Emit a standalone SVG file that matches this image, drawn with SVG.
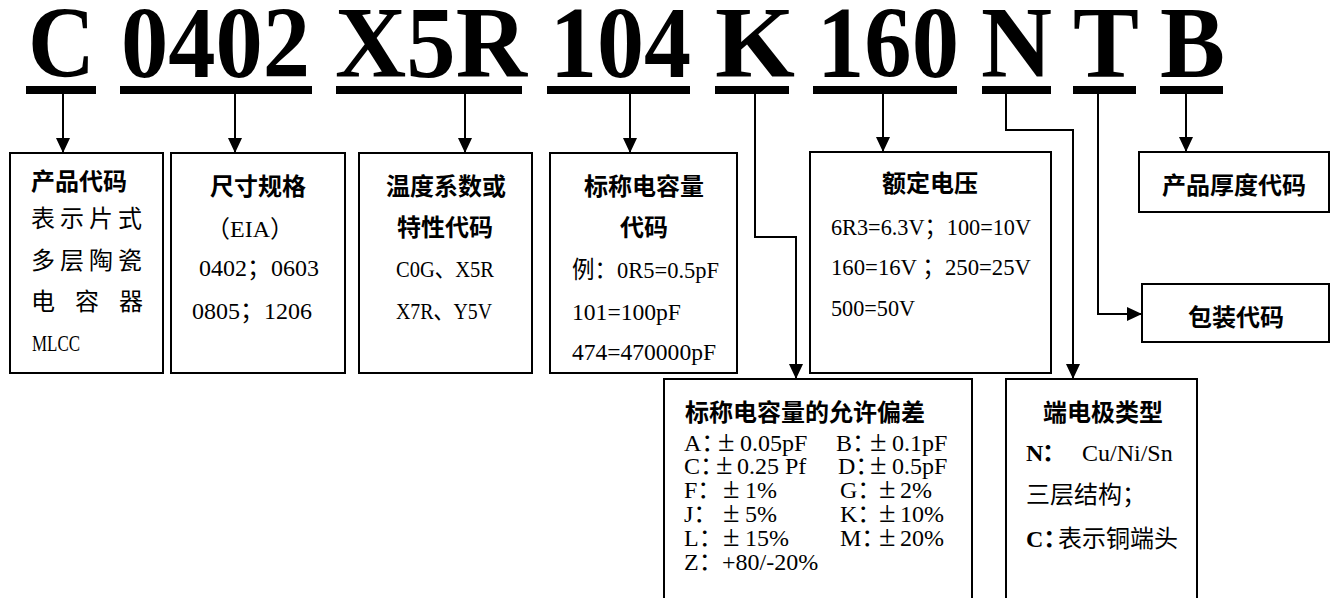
<svg xmlns="http://www.w3.org/2000/svg" width="1340" height="598" viewBox="0 0 1340 598">
<defs>
<marker id="ah" viewBox="0 0 15 14" refX="15" refY="7" markerWidth="15" markerHeight="14" markerUnits="userSpaceOnUse" orient="auto"><path d="M0,0 L15,7 L0,14 z" fill="#000"/></marker>
</defs>
<style>
.code{font-family:"Liberation Serif",serif;font-weight:bold;font-size:102px;fill:#000}
.bar{fill:#000}
.box{fill:#fff;stroke:#000;stroke-width:2}
.h{font-family:"Noto Sans CJK SC",sans-serif;font-weight:bold;font-size:24px;fill:#000}
.t{font-family:"Liberation Serif","Noto Sans CJK SC",serif;font-size:24px;fill:#000}
.c{text-anchor:middle}
.b{font-weight:bold}
.pm{font-size:30px}
.conn{fill:none;stroke:#000;stroke-width:2;marker-end:url(#ah)}
</style>
<rect x="0" y="0" width="1340" height="598" fill="#fff"/>

<g id="code">
<text class="code" x="28" y="77" textLength="67" lengthAdjust="spacingAndGlyphs">C</text>
<text class="code" x="121" y="77" textLength="189" lengthAdjust="spacingAndGlyphs">0402</text>
<text class="code" x="335" y="77" textLength="192" lengthAdjust="spacingAndGlyphs">X5R</text>
<text class="code" x="550" y="77" textLength="141" lengthAdjust="spacingAndGlyphs">104</text>
<text class="code" x="715" y="77" textLength="80" lengthAdjust="spacingAndGlyphs">K</text>
<text class="code" x="817" y="77" textLength="142" lengthAdjust="spacingAndGlyphs">160</text>
<text class="code" x="981" y="77" textLength="71" lengthAdjust="spacingAndGlyphs">N</text>
<text class="code" x="1073" y="77" textLength="66" lengthAdjust="spacingAndGlyphs">T</text>
<text class="code" x="1160" y="77" textLength="65" lengthAdjust="spacingAndGlyphs">B</text>
<rect class="bar" x="26" y="86" width="70" height="8"/>
<rect class="bar" x="120" y="86" width="192" height="8"/>
<rect class="bar" x="336" y="86" width="186" height="8"/>
<rect class="bar" x="547" y="86" width="143" height="8"/>
<rect class="bar" x="715" y="86" width="74" height="8"/>
<rect class="bar" x="813" y="86" width="144" height="8"/>
<rect class="bar" x="982" y="86" width="69" height="8"/>
<rect class="bar" x="1073" y="86" width="63" height="8"/>
<rect class="bar" x="1160" y="86" width="63" height="8"/>
</g>

<g id="connectors">
<path class="conn" d="M63,94 V153"/>
<path class="conn" d="M235,94 V153"/>
<path class="conn" d="M465,94 V153"/>
<path class="conn" d="M630,94 V153"/>
<path class="conn" d="M755,94 V237 H796 V379"/>
<path class="conn" d="M883,94 V152"/>
<path class="conn" d="M1006,94 V130 H1073 V379"/>
<path class="conn" d="M1098,94 V314 H1142"/>
<path class="conn" d="M1186,94 V152"/>
</g>

<g id="product-code">
<rect class="box" x="10" y="153" width="153" height="220"/>
<text class="h" x="31" y="190">产品代码</text>
<text class="t" x="31" y="227" letter-spacing="5">表示片式</text>
<text class="t" x="31" y="269" letter-spacing="5">多层陶瓷</text>
<text class="t" y="310"><tspan x="31">电</tspan><tspan x="75">容</tspan><tspan x="119">器</tspan></text>
<text class="t" x="32" y="351" textLength="48" lengthAdjust="spacingAndGlyphs">MLCC</text>
</g>

<g id="size">
<rect class="box" x="171" y="153" width="174" height="220"/>
<text class="h c" x="258" y="195">尺寸规格</text>
<text class="t c" x="250" y="237">（EIA）</text>
<text class="t" x="199" y="276">0402；0603</text>
<text class="t" x="192" y="319">0805；1206</text>
</g>

<g id="temp">
<rect class="box" x="359" y="153" width="173" height="220"/>
<text class="h c" x="446" y="195">温度系数或</text>
<text class="h c" x="445" y="236">特性代码</text>
<text class="t" x="396" y="277" textLength="98" lengthAdjust="spacingAndGlyphs">C0G、X5R</text>
<text class="t" x="396" y="319" textLength="96" lengthAdjust="spacingAndGlyphs">X7R、Y5V</text>
</g>

<g id="capacitance">
<rect class="box" x="550" y="153" width="187" height="220"/>
<text class="h c" x="644" y="195">标称电容量</text>
<text class="h c" x="644" y="236">代码</text>
<text class="t" x="572" y="278" textLength="147" lengthAdjust="spacingAndGlyphs">例：0R5=0.5pF</text>
<text class="t" x="572" y="320" textLength="109" lengthAdjust="spacingAndGlyphs">101=100pF</text>
<text class="t" x="572" y="360" textLength="144" lengthAdjust="spacingAndGlyphs">474=470000pF</text>
</g>

<g id="voltage">
<rect class="box" x="810" y="152" width="241" height="221"/>
<text class="h c" x="930" y="192">额定电压</text>
<text class="t" x="831" y="235" textLength="200" lengthAdjust="spacingAndGlyphs">6R3=6.3V；100=10V</text>
<text class="t" x="831" y="275" textLength="200" lengthAdjust="spacingAndGlyphs" xml:space="preserve">160=16V ；250=25V</text>
<text class="t" x="831" y="316" textLength="84" lengthAdjust="spacingAndGlyphs">500=50V</text>
</g>

<g id="thickness">
<rect class="box" x="1139" y="152" width="190" height="60"/>
<text class="h c" x="1234" y="194">产品厚度代码</text>
</g>

<g id="packing">
<rect class="box" x="1142" y="284" width="187" height="58"/>
<text class="h c" x="1236" y="326">包装代码</text>
</g>

<g id="tolerance">
<rect class="box" x="664" y="379" width="308" height="240"/>
<text class="h" x="685" y="421">标称电容量的允许偏差</text>
<text class="t" y="451"><tspan x="684">A：</tspan><tspan x="718" class="pm">±</tspan><tspan x="740">0.05pF</tspan><tspan x="836">B：</tspan><tspan x="870" class="pm">±</tspan><tspan x="892">0.1pF</tspan></text>
<text class="t" y="474" xml:space="preserve"><tspan x="684">C：</tspan><tspan x="716" class="pm">±</tspan><tspan x="737">0.25 Pf</tspan><tspan x="838">D：</tspan><tspan x="870" class="pm">±</tspan><tspan x="892">0.5pF</tspan></text>
<text class="t" y="498"><tspan x="684">F：</tspan><tspan x="723" class="pm">±</tspan><tspan x="745">1%</tspan><tspan x="840">G：</tspan><tspan x="879" class="pm">±</tspan><tspan x="900">2%</tspan></text>
<text class="t" y="522"><tspan x="684">J：</tspan><tspan x="723" class="pm">±</tspan><tspan x="745">5%</tspan><tspan x="840">K：</tspan><tspan x="879" class="pm">±</tspan><tspan x="900">10%</tspan></text>
<text class="t" y="546"><tspan x="684">L：</tspan><tspan x="723" class="pm">±</tspan><tspan x="745">15%</tspan><tspan x="840">M：</tspan><tspan x="879" class="pm">±</tspan><tspan x="900">20%</tspan></text>
<text class="t" y="570"><tspan x="684">Z：</tspan><tspan x="722">+80/-20%</tspan></text>
</g>

<g id="terminal">
<rect class="box" x="1006" y="379" width="191" height="240"/>
<text class="h" x="1043" y="421">端电极类型</text>
<text class="t" y="461"><tspan x="1026" class="b">N</tspan><tspan x="1042" class="b">：</tspan><tspan x="1082">Cu/Ni/Sn</tspan></text>
<text class="t" x="1026" y="503">三层结构；</text>
<text class="t" y="547"><tspan x="1026" class="b">C：</tspan><tspan x="1058">表示铜端头</tspan></text>
</g>
</svg>
